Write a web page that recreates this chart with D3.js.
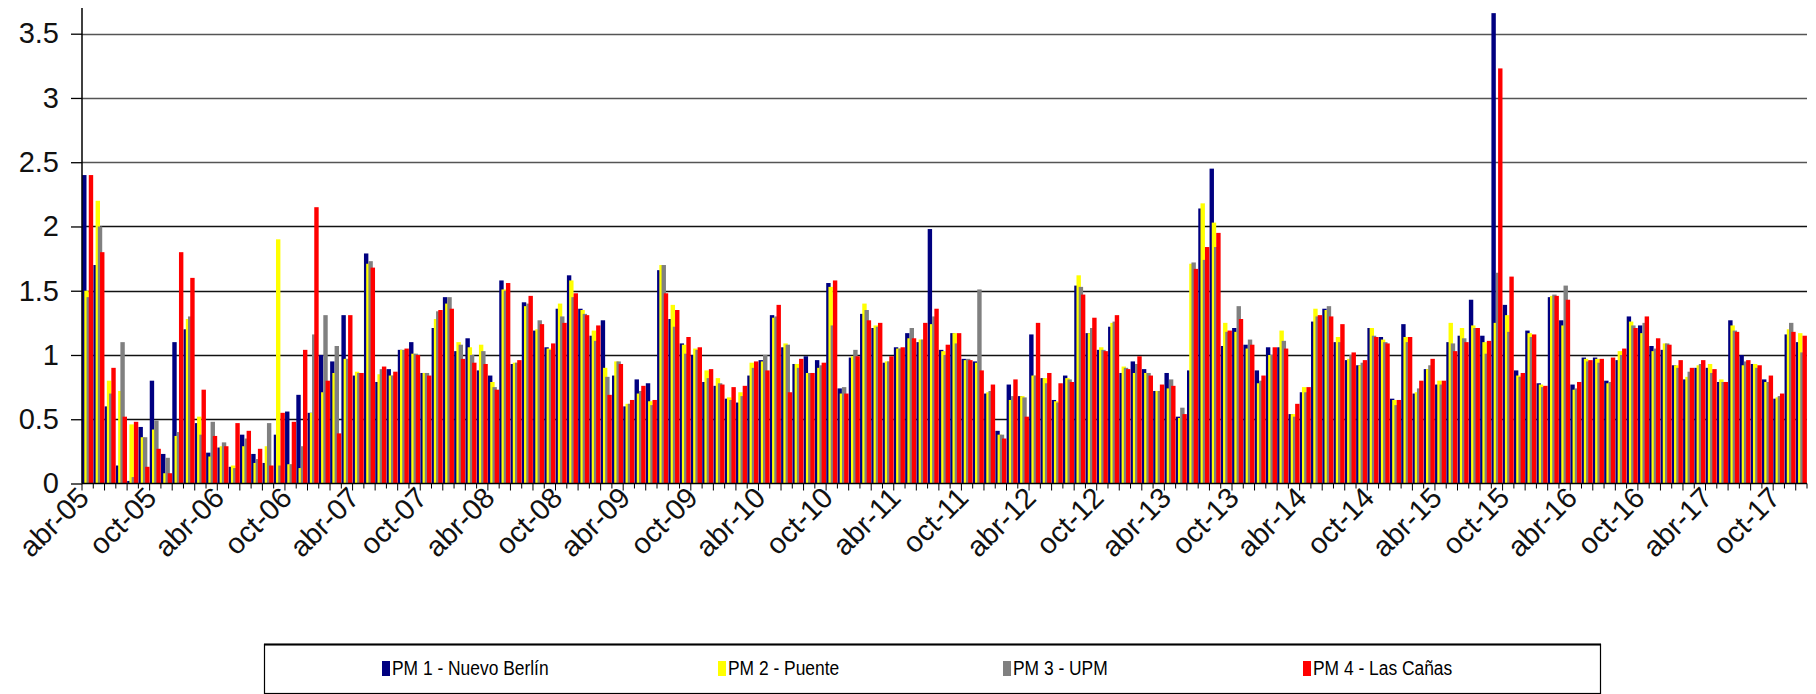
<!DOCTYPE html>
<html><head><meta charset="utf-8">
<script src="https://cdn.jsdelivr.net/npm/d3@7"></script>
<style>body{margin:0;background:#fff}svg{display:block;font-family:"Liberation Sans",Arial,sans-serif}</style>
</head><body>
<script>
const categories = [
"abr-05","may-05","jun-05","jul-05","ago-05","sep-05","oct-05","nov-05","dic-05",
"ene-06","feb-06","mar-06","abr-06","may-06","jun-06","jul-06","ago-06","sep-06","oct-06","nov-06","dic-06",
"ene-07","feb-07","mar-07","abr-07","may-07","jun-07","jul-07","ago-07","sep-07","oct-07","nov-07","dic-07",
"ene-08","feb-08","mar-08","abr-08","may-08","jun-08","jul-08","ago-08","sep-08","oct-08","nov-08","dic-08",
"ene-09","feb-09","mar-09","abr-09","may-09","jun-09","jul-09","ago-09","sep-09","oct-09","nov-09","dic-09",
"ene-10","feb-10","mar-10","abr-10","may-10","jun-10","jul-10","ago-10","sep-10","oct-10","nov-10","dic-10",
"ene-11","feb-11","mar-11","abr-11","may-11","jun-11","jul-11","ago-11","sep-11","oct-11","nov-11","dic-11",
"ene-12","feb-12","mar-12","abr-12","may-12","jun-12","jul-12","ago-12","sep-12","oct-12","nov-12","dic-12",
"ene-13","feb-13","mar-13","abr-13","may-13","jun-13","jul-13","ago-13","sep-13","oct-13","nov-13","dic-13",
"ene-14","feb-14","mar-14","abr-14","may-14","jun-14","jul-14","ago-14","sep-14","oct-14","nov-14","dic-14",
"ene-15","feb-15","mar-15","abr-15","may-15","jun-15","jul-15","ago-15","sep-15","oct-15","nov-15","dic-15",
"ene-16","feb-16","mar-16","abr-16","may-16","jun-16","jul-16","ago-16","sep-16","oct-16","nov-16","dic-16",
"ene-17","feb-17","mar-17","abr-17","may-17","jun-17","jul-17","ago-17","sep-17","oct-17","nov-17","dic-17"];

const tickLabels = ["abr-05","oct-05","abr-06","oct-06","abr-07","oct-07","abr-08","oct-08","abr-09","oct-09",
"abr-10","oct-10","abr-11","oct-11","abr-12","oct-12","abr-13","oct-13","abr-14","oct-14","abr-15","oct-15",
"abr-16","oct-16","abr-17","oct-17"];

const yTicks = [0,0.5,1,1.5,2,2.5,3,3.5];

const seriesNames = ["PM 1 - Nuevo Berlín","PM 2 - Puente","PM 3 - UPM","PM 4 - Las Cañas"];
const seriesColors = ["#000080","#FFFF00","#808080","#FF0000"];

const pm1 = [2.4,1.7,0.6,0.14,0.02,0.44,0.8,0.23,1.1,1.2,0.47,0.24,0.28,0.13,0.38,0.23,0.16,0.38,0.56,0.69,
0.55,1.0,0.95,1.31,0.84,1.79,0.79,0.89,1.04,1.1,0.86,1.21,1.45,1.03,1.13,0.88,0.84,1.58,0.93,1.41,
1.19,1.06,1.36,1.62,1.36,1.15,1.27,0.84,0.6,0.81,0.78,1.66,1.28,1.09,1.0,0.79,0.76,0.66,0.63,0.84,
0.96,1.31,1.06,0.93,0.99,0.96,1.56,0.74,0.98,1.32,1.21,0.94,1.06,1.17,1.1,1.98,1.04,1.17,0.97,0.95,
0.7,0.41,0.77,0.68,1.16,0.82,0.65,0.84,1.54,1.17,1.04,1.22,0.86,0.95,0.89,0.72,0.86,0.52,0.88,2.14,
2.45,1.07,1.21,1.08,0.88,1.06,1.06,0.54,0.71,1.26,1.36,1.1,0.96,0.92,1.21,1.14,0.66,1.24,0.7,0.89,
0.77,1.1,1.15,1.43,1.15,3.66,1.39,0.88,1.19,0.78,1.45,1.27,0.77,0.98,0.98,0.8,0.96,1.3,1.23,1.07,
1.04,0.92,0.81,0.9,0.9,0.79,1.27,1.0,0.93,0.81,0.66,1.16,1.1];

const pm2 = [1.5,2.2,0.8,0.72,0.46,0.36,0.42,0.08,0.37,1.28,0.52,0.21,0.29,0.14,0.29,0.16,0.29,1.9,0.15,0.12,
0.55,0.71,0.86,0.97,0.87,1.71,0.85,0.84,1.04,1.01,0.86,1.28,1.4,1.1,1.06,1.08,0.79,1.51,0.94,1.38,
1.2,1.05,1.4,1.58,1.35,1.19,0.9,0.95,0.62,0.7,0.64,1.7,1.39,1.08,1.05,0.88,0.82,0.67,0.71,0.94,
0.95,1.29,1.09,0.93,0.86,0.9,1.53,0.7,0.99,1.4,1.23,0.95,1.05,1.13,1.12,1.24,1.03,1.17,0.96,0.94,
0.71,0.38,0.65,0.68,0.84,0.82,0.64,0.82,1.62,1.17,1.06,1.25,0.91,0.86,0.86,0.72,0.74,0.51,1.71,2.18,
2.03,1.25,1.18,1.05,0.78,1.0,1.19,0.54,0.75,1.36,1.35,1.14,0.97,0.92,1.21,1.12,0.65,1.14,0.71,0.89,
0.8,1.25,1.21,1.23,1.1,1.25,1.31,0.84,1.17,0.77,1.46,1.23,0.73,0.97,0.97,0.78,1.03,1.26,1.17,1.03,
1.09,0.92,0.83,0.92,0.93,0.81,1.23,0.92,0.93,0.79,0.67,1.2,1.17];

const pm3 = [1.45,2.0,0.7,1.1,0.05,0.36,0.49,0.2,0.4,1.3,0.38,0.48,0.32,0.12,0.35,0.19,0.47,0.14,0.15,0.29,
1.16,1.31,1.07,0.97,0.86,1.73,0.89,0.84,1.04,1.01,0.86,1.34,1.45,1.08,1.0,1.03,0.75,1.5,0.94,1.4,
1.27,1.04,1.3,1.45,1.32,1.11,0.83,0.95,0.62,0.72,0.61,1.7,1.22,1.01,1.04,0.82,0.78,0.65,0.68,0.9,
1.0,1.3,1.08,0.9,0.86,0.92,1.23,0.75,1.04,1.35,1.22,0.95,1.05,1.21,1.12,1.3,1.0,1.09,0.97,1.51,
0.72,0.38,0.68,0.67,0.84,0.78,0.63,0.81,1.53,1.21,1.04,1.26,0.9,0.93,0.86,0.72,0.81,0.59,1.72,1.74,
1.84,1.18,1.38,1.12,0.8,1.0,1.11,0.52,0.71,1.3,1.38,1.1,1.0,0.94,1.15,1.1,0.61,1.1,0.74,0.92,
0.77,1.09,1.13,1.21,1.01,1.64,1.18,0.83,1.14,0.75,1.47,1.54,0.74,0.95,0.94,0.79,1.0,1.23,1.25,1.05,
1.09,0.9,0.87,0.93,0.86,0.79,1.19,0.95,0.9,0.79,0.68,1.25,1.02];

const pm4 = [2.4,1.8,0.9,0.52,0.48,0.13,0.27,0.08,1.8,1.6,0.73,0.37,0.29,0.47,0.41,0.27,0.14,0.55,0.48,1.04,
2.15,0.8,0.39,1.31,0.86,1.68,0.91,0.87,1.05,1.0,0.84,1.35,1.36,0.97,0.94,0.93,0.73,1.56,0.96,1.46,
1.24,1.09,1.25,1.48,1.31,1.23,0.69,0.93,0.65,0.76,0.65,1.48,1.35,1.14,1.06,0.89,0.77,0.75,0.76,0.95,
0.88,1.39,0.71,0.97,0.86,0.94,1.58,0.7,0.99,1.27,1.25,0.99,1.06,1.13,1.25,1.36,1.08,1.17,0.96,0.88,
0.77,0.35,0.81,0.52,1.25,0.86,0.78,0.79,1.47,1.29,1.03,1.31,0.89,0.99,0.84,0.77,0.76,0.54,1.67,1.84,
1.95,1.19,1.28,1.08,0.84,1.06,1.05,0.62,0.75,1.31,1.3,1.24,1.02,0.96,1.14,1.09,0.65,1.14,0.8,0.97,
0.8,1.03,1.1,1.21,1.11,3.23,1.61,0.86,1.16,0.76,1.46,1.43,0.79,0.96,0.97,0.98,1.05,1.21,1.3,1.13,
1.08,0.96,0.9,0.96,0.89,0.79,1.18,0.96,0.92,0.84,0.7,1.18,1.15];

const seriesValues = [pm1,pm2,pm3,pm4];

const W = 1816, H = 694;
const left = 82, right = 1807, y0 = 483.5, yTop = 8;

const svg = d3.select("body").append("svg").attr("width",W).attr("height",H);

const x = d3.scaleBand().domain(categories).range([left,right]).padding(0);
const y = d3.scaleLinear().domain([0,3.7]).range([y0,yTop]);
const barW = 4.4;
const inner = d3.scalePoint().domain(d3.range(seriesNames.length)).range([0, x.bandwidth()-barW-0.2]);

// gridlines
svg.append("g").selectAll("line").data(yTicks.filter(d=>d>0)).join("line")
  .attr("x1",left).attr("x2",right)
  .attr("y1",d=>Math.round(y(d))+0.5).attr("y2",d=>Math.round(y(d))+0.5)
  .attr("stroke",d=>d>=2.5?"#555":"#111").attr("stroke-width",1.3);

// bars
seriesValues.forEach((vals,s)=>{
  svg.append("g").selectAll("rect").data(vals).join("rect")
    .attr("x",(d,i)=>x(categories[i])+0.1+inner(s))
    .attr("width",barW)
    .attr("y",d=>y(d))
    .attr("height",d=>y0-y(d))
    .attr("fill",seriesColors[s]);
});

// y axis
const yAxis = d3.axisLeft(y).tickValues(yTicks).tickSize(11).tickPadding(12).tickFormat(d=>String(d));
const gy = svg.append("g").attr("transform",`translate(${left},0)`).call(yAxis);
gy.select(".domain").attr("stroke","#000").attr("stroke-width",1.5).attr("d",`M0,${yTop}V${y0}`);
gy.selectAll(".tick line").attr("stroke","#000").attr("stroke-width",1.3);
gy.selectAll("text").attr("font-size",29).attr("fill","#111").attr("font-family","Liberation Sans, Arial, sans-serif");

// x axis line
svg.append("line").attr("x1",left).attr("x2",right).attr("y1",y0).attr("y2",y0).attr("stroke","#000").attr("stroke-width",1.5);
// category boundary ticks
const bounds = categories.map(c=>x(c)).concat([right]);
svg.append("g").selectAll("line").data(bounds).join("line")
  .attr("x1",d=>d).attr("x2",d=>d).attr("y1",y0).attr("y2",(d,i)=> i%2===0 ? y0+7 : y0+5)
  .attr("stroke","#000").attr("stroke-width",1);

// x labels
const xAxis = d3.axisBottom(x).tickValues(tickLabels).tickSize(0).tickPadding(0);
const gx = svg.append("g").attr("transform",`translate(0,${y0})`).call(xAxis);
gx.select(".domain").remove();
gx.selectAll("text")
  .attr("font-size",29).attr("fill","#111").attr("font-family","Liberation Sans, Arial, sans-serif")
  .attr("text-anchor","end").attr("dy","0").attr("y",0)
  .attr("transform","translate(3,16) rotate(-45)");

// legend
const lg = svg.append("g");
lg.append("rect").attr("x",264.5).attr("y",644.5).attr("width",1336).attr("height",49)
  .attr("fill","#fff").attr("stroke","#000").attr("stroke-width",1.2);
lg.append("line").attr("x1",264).attr("x2",1601).attr("y1",644.5).attr("y2",644.5).attr("stroke","#000").attr("stroke-width",2);
const legX = [382,718,1003,1303];
const items = lg.selectAll("g.item").data(seriesNames).join("g").attr("class","item")
  .attr("transform",(d,i)=>`translate(${legX[i]},668)`);
items.append("rect").attr("x",0).attr("y",-7).attr("width",8).attr("height",15).attr("fill",(d,i)=>seriesColors[i]);
items.append("text").attr("transform","translate(10,7) scale(0.87,1)").attr("font-size",20).attr("fill","#000")
  .attr("font-family","Liberation Sans, Arial, sans-serif").text(d=>d);
</script>
</body></html>
